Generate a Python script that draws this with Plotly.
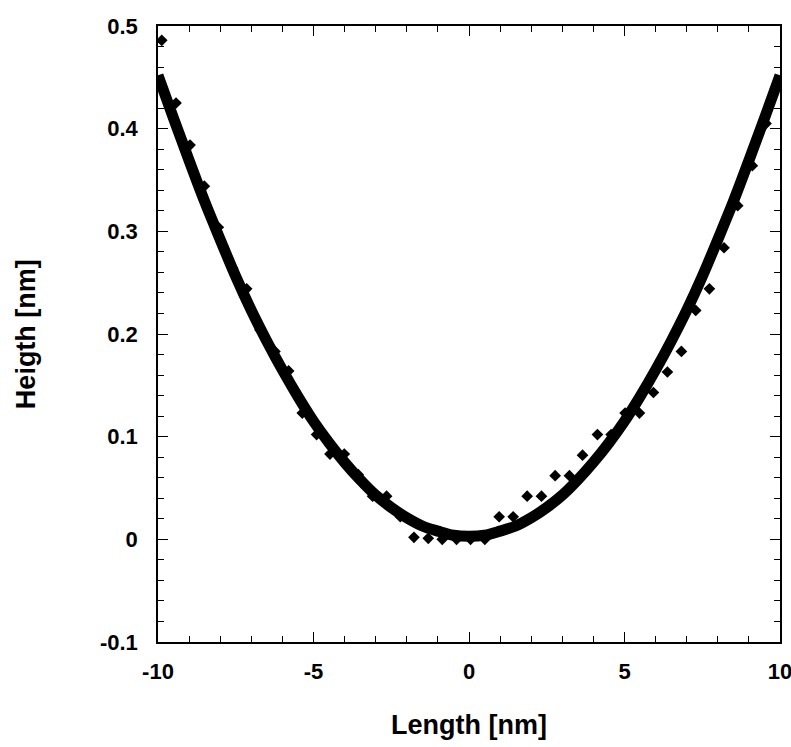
import plotly.graph_objects as go

# Measured data points (Length [nm], Heigth [nm])
data_x = [-9.88, -9.42, -8.97, -8.51, -8.06, -7.60, -7.15, -6.72, -6.24, -5.80,
          -5.36, -4.90, -4.47, -4.01, -3.56, -3.10, -2.65, -2.21, -1.77, -1.31,
          -0.86, -0.40, 0.05, 0.51, 0.97, 1.42, 1.87, 2.33, 2.77, 3.23,
          3.65, 4.13, 4.57, 5.02, 5.48, 5.93, 6.38, 6.83, 7.29, 7.73,
          8.20, 8.64, 9.11, 9.55]
data_y = [0.486, 0.425, 0.384, 0.344, 0.304, 0.264, 0.244, 0.204, 0.183, 0.164,
          0.123, 0.102, 0.083, 0.083, 0.063, 0.042, 0.042, 0.022, 0.002, 0.001,
          0.0, 0.0, 0.0, 0.0, 0.022, 0.022, 0.042, 0.042, 0.062, 0.062,
          0.082, 0.102, 0.102, 0.123, 0.123, 0.143, 0.163, 0.183, 0.223, 0.244,
          0.284, 0.325, 0.364, 0.405]

# Fitted curve
fit_x = [-10, -9.5, -9, -8.5, -8, -7.5, -7, -6.5, -6, -5.5, -5, -4.5, -4, -3.5, -3,
         -2.5, -2, -1.5, -1, -0.5, 0, 0.5, 1, 1.5, 2, 2.5, 3, 3.5, 4, 4.5, 5,
         5.5, 6, 6.5, 7, 7.5, 8, 8.5, 9, 9.5, 10]
fit_y = [0.452, 0.410, 0.369, 0.329, 0.292, 0.256, 0.223, 0.193, 0.165, 0.139, 0.115,
         0.094, 0.075, 0.058, 0.043, 0.031, 0.021, 0.013, 0.008, 0.004, 0.003,
         0.004, 0.008, 0.013, 0.021, 0.031, 0.043, 0.058, 0.075, 0.094, 0.115,
         0.139, 0.165, 0.193, 0.223, 0.256, 0.292, 0.329, 0.369, 0.410, 0.452]

x_ticks = [-10, -5, 0, 5, 10]
y_ticks = [-0.1, 0, 0.1, 0.2, 0.3, 0.4, 0.5]
y_ticklabels = ["-0.1", "0", "0.1", "0.2", "0.3", "0.4", "0.5"]

FONT = "Liberation Sans, Arial, Helvetica, sans-serif"

fig = go.Figure()
fig.add_trace(go.Scatter(x=fit_x, y=fit_y, mode="lines",
                         line=dict(color="black", width=11, shape="spline"),
                         showlegend=False))
fig.add_trace(go.Scatter(x=data_x, y=data_y, mode="markers",
                         marker=dict(symbol="diamond", size=9, color="black",
                                     line=dict(width=0)),
                         showlegend=False))

axis_common = dict(showline=True, linecolor="black", linewidth=1.5, mirror="ticks",
                   ticks="inside", ticklen=10, tickwidth=1.2, tickcolor="black",
                   showgrid=False, zeroline=False, automargin=False,
                   ticklabeloverflow="allow",
                   tickfont=dict(family=FONT, size=22, color="black", weight="bold"))

fig.update_xaxes(range=[-10, 10], tickvals=x_ticks,
                 ticktext=[str(v) for v in x_ticks], ticklabelstandoff=9,
                 minor=dict(dtick=1, ticks="inside", ticklen=6, tickwidth=1.2,
                            tickcolor="black", showgrid=False),
                 **axis_common)
fig.update_yaxes(range=[-0.1, 0.5], tickvals=y_ticks, ticktext=y_ticklabels,
                 ticklabelstandoff=14,
                 minor=dict(dtick=0.02, tick0=0, ticks="inside", ticklen=6, tickwidth=1.2,
                            tickcolor="black", showgrid=False),
                 **axis_common)

fig.add_annotation(text="Length [nm]", xref="paper", yref="paper", x=0.5, y=-0.135,
                   xanchor="center", yanchor="middle", showarrow=False,
                   font=dict(family=FONT, size=27, color="black", weight="bold"))
fig.add_annotation(text="Heigth [nm]", xref="paper", yref="paper", x=-0.212, y=0.5,
                   xanchor="center", yanchor="middle", showarrow=False, textangle=-90,
                   font=dict(family=FONT, size=27, color="black", weight="bold"))

fig.update_layout(width=791, height=747,
                  margin=dict(l=158, r=11, t=26, b=105, autoexpand=False),
                  plot_bgcolor="white", paper_bgcolor="white")

fig.write_html("out.html")
